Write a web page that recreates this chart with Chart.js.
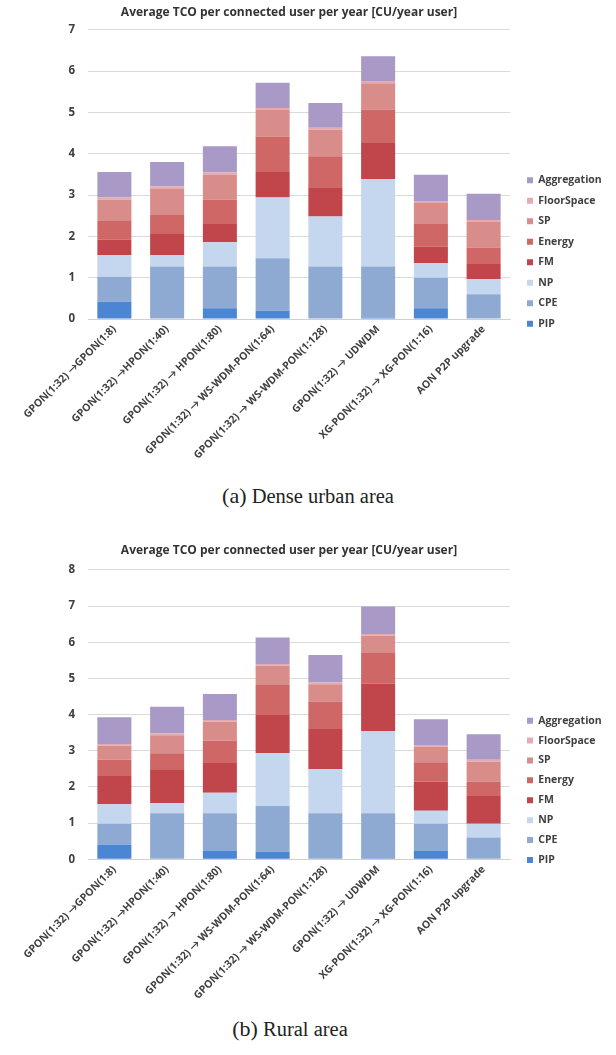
<!DOCTYPE html>
<html>
<head>
<meta charset="utf-8">
<script src="https://cdn.jsdelivr.net/npm/chart.js@4.4.1/dist/chart.umd.min.js"></script>
<style>
  html, body { margin: 0; padding: 0; background: #ffffff; }
  body { width: 616px; height: 1055px; position: relative; overflow: hidden; }
  .chartbox { position: absolute; left: 0; width: 616px; height: 480px; }
  #box1 { top: 0; }
  #box2 { top: 530px; }
  .caption { position: absolute; text-align: center; white-space: nowrap;
             font-family: "Liberation Serif", "DejaVu Serif", serif; color: #222; font-size: 20.5px; }
  .caption .tag { font-size: 22px; }
  #cap1 { top: 483px; left: 0; width: 616px; }
  #cap2 { top: 1016px; left: 0; width: 580px; }
</style>
</head>
<body>
<div class="chartbox" id="box1"><canvas id="c1" width="616" height="480"></canvas></div>
<div class="caption" id="cap1"><span class="tag">(a)</span> Dense urban area</div>
<div class="chartbox" id="box2"><canvas id="c2" width="616" height="480"></canvas></div>
<div class="caption" id="cap2"><span class="tag">(b)</span> Rural area</div>

<script>
// Migration scenarios on the x axis
const categories = [
  "GPON(1:32) \u2192GPON(1:8)",
  "GPON(1:32) \u2192HPON(1:40)",
  "GPON(1:32) \u2192 HPON(1:80)",
  "GPON(1:32) \u2192 WS-WDM-PON(1:64)",
  "GPON(1:32) \u2192 WS-WDM-PON(1:128)",
  "GPON(1:32) \u2192 UDWDM",
  "XG-PON(1:32) \u2192 XG-PON(1:16)",
  "AON P2P upgrade"
];

const chartTitle = "Average TCO per connected user per year [CU/year user]";

// Cost components (stacked bottom to top)
const seriesNames = ["PIP", "CPE", "NP", "FM", "Energy", "SP", "FloorSpace", "Aggregation"];

// Dense urban area [CU/year user]
const urbanPIP         = [0.42, 0.00, 0.26, 0.20, 0.00, 0.03, 0.26, 0.00];
const urbanCPE         = [0.60, 1.27, 1.01, 1.27, 1.27, 1.24, 0.74, 0.60];
const urbanNP          = [0.53, 0.28, 0.59, 1.47, 1.21, 2.12, 0.35, 0.37];
const urbanFM          = [0.37, 0.51, 0.44, 0.62, 0.71, 0.87, 0.40, 0.36];
const urbanEnergy      = [0.45, 0.46, 0.59, 0.86, 0.75, 0.81, 0.55, 0.40];
const urbanSP          = [0.52, 0.64, 0.61, 0.64, 0.64, 0.64, 0.51, 0.62];
const urbanFloorSpace  = [0.05, 0.05, 0.05, 0.05, 0.05, 0.05, 0.05, 0.05];
const urbanAggregation = [0.62, 0.59, 0.63, 0.61, 0.60, 0.60, 0.63, 0.63];

// Rural area [CU/year user]
const ruralPIP         = [0.40, 0.00, 0.24, 0.21, 0.00, 0.03, 0.23, 0.00];
const ruralCPE         = [0.58, 1.27, 1.03, 1.26, 1.27, 1.24, 0.75, 0.60];
const ruralNP          = [0.54, 0.28, 0.57, 1.46, 1.22, 2.28, 0.36, 0.38];
const ruralFM          = [0.78, 0.92, 0.84, 1.06, 1.11, 1.30, 0.81, 0.77];
const ruralEnergy      = [0.45, 0.46, 0.60, 0.83, 0.76, 0.85, 0.53, 0.40];
const ruralSP          = [0.39, 0.50, 0.52, 0.53, 0.48, 0.48, 0.43, 0.55];
const ruralFloorSpace  = [0.05, 0.05, 0.05, 0.05, 0.05, 0.05, 0.05, 0.05];
const ruralAggregation = [0.74, 0.74, 0.72, 0.73, 0.76, 0.76, 0.71, 0.71];

// Axis ranges
const urbanMax = 7;
const ruralMax = 8;

const seriesColors = ["#4a86d4", "#8eaad3", "#c5d7ee", "#c0464b", "#cf6767", "#d98d8a", "#e5abb2", "#a899c6"];

const FONT = "'Open Sans', Lato, 'Liberation Sans', sans-serif";
const TEXT = "#404040";

function buildDatasets(values) {
  return values.map((arr, i) => ({
    label: seriesNames[i],
    data: arr,
    backgroundColor: seriesColors[i],
    borderWidth: 0,
    barPercentage: 0.645,
    categoryPercentage: 1.0
  }));
}

// Moves the legend to a fixed spot at the right of the plot
function legendPlacer(x, y) {
  return {
    id: 'legendPlacer',
    afterLayout(chart) {
      const lg = chart.legend;
      if (!lg) return;
      const w = lg.right - lg.left;
      lg.left = x;
      lg.right = x + w;
      lg.top = y;
      lg.bottom = y + 400;
    }
  };
}

function makeChart(canvasId, values, yMax, opts) {
  return new Chart(document.getElementById(canvasId), {
    type: 'bar',
    data: { labels: categories, datasets: buildDatasets(values) },
    options: {
      responsive: false,
      animation: false,
      devicePixelRatio: 1,
      layout: { padding: { left: 68, right: 106, top: 0, bottom: 0 } },
      plugins: {
        title: {
          display: true,
          text: chartTitle,
          color: "#333333",
          font: { family: FONT, size: 12, weight: 'bold' },
          padding: { top: opts.titleTop, bottom: opts.titleBottom }
        },
        legend: {
          display: true,
          position: 'chartArea',
          align: 'start',
          reverse: true,
          labels: {
            boxWidth: 6,
            boxHeight: 6,
            padding: opts.legendGap,
            color: TEXT,
            font: { family: FONT, size: 10.5, weight: 'bold' }
          }
        },
        tooltip: { enabled: false }
      },
      scales: {
        x: {
          stacked: true,
          grid: { display: false, drawTicks: false },
          border: { display: true, color: "#d0d0d0", width: 1 },
          ticks: {
            autoSkip: false,
            maxRotation: 45,
            minRotation: 45,
            padding: 4,
            color: TEXT,
            font: { family: FONT, size: 10.5, weight: 'bold' }
          },
          afterFit(scale) { scale.height = opts.xAxisHeight; }
        },
        y: {
          stacked: true,
          min: 0,
          max: yMax,
          grid: { color: "#dadada", lineWidth: 1, drawTicks: false },
          border: { display: false },
          ticks: {
            stepSize: 1,
            padding: 13,
            color: TEXT,
            font: { family: FONT, size: 11.5, weight: 'bold' }
          },
          afterFit(scale) { scale.width = 20; }
        }
      }
    },
    plugins: [legendPlacer(527 - opts.legendGap, opts.legendTop)]
  });
}

makeChart('c1',
  [urbanPIP, urbanCPE, urbanNP, urbanFM, urbanEnergy, urbanSP, urbanFloorSpace, urbanAggregation],
  urbanMax,
  { titleTop: 5.6, titleBottom: 9.9, xAxisHeight: 161, legendTop: 165, legendGap: 10 });

makeChart('c2',
  [ruralPIP, ruralCPE, ruralNP, ruralFM, ruralEnergy, ruralSP, ruralFloorSpace, ruralAggregation],
  ruralMax,
  { titleTop: 13.6, titleBottom: 11.9, xAxisHeight: 150.7, legendTop: 176, legendGap: 9.4 });
</script>
</body>
</html>
